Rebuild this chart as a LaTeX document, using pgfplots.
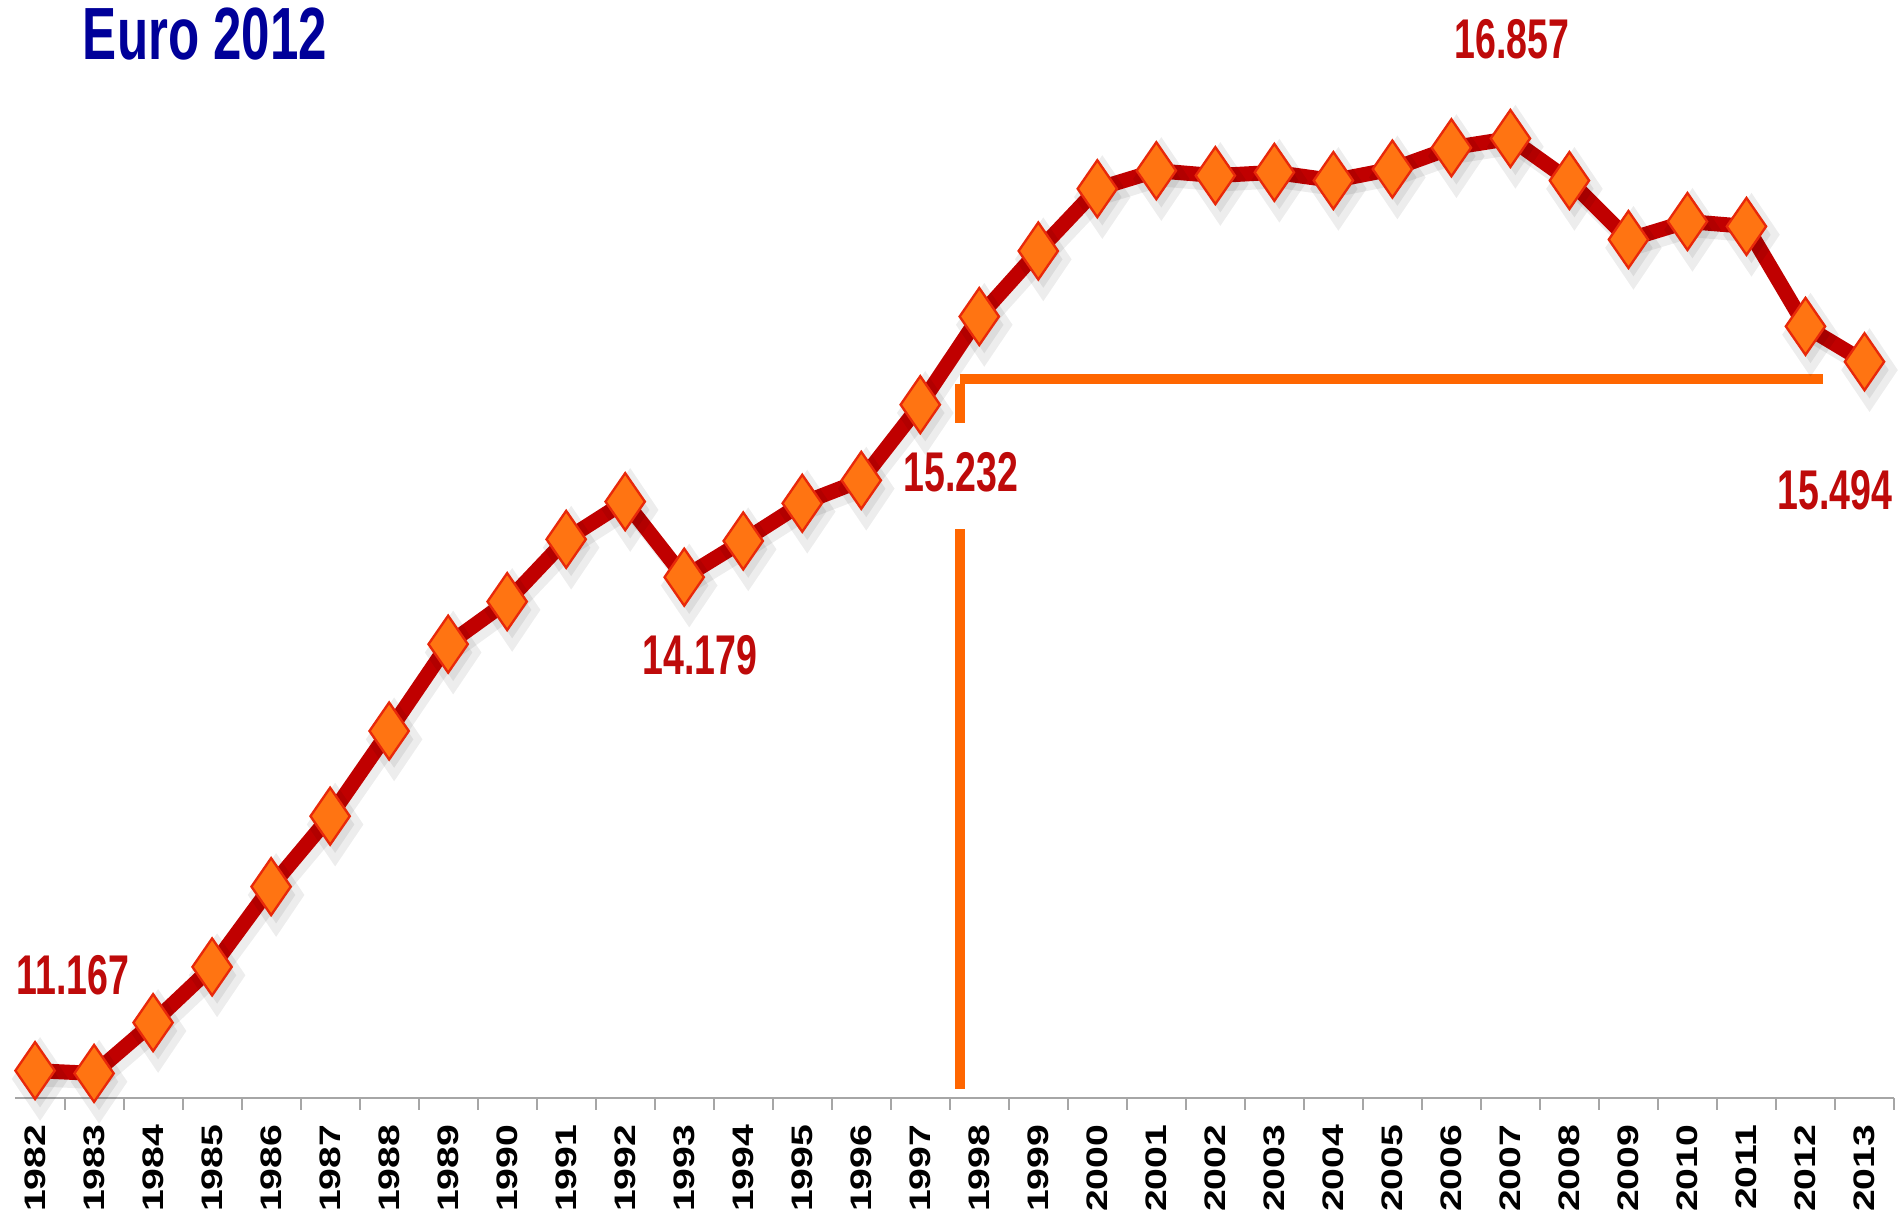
\documentclass[border=0pt]{standalone}
\usepackage{pgfplots}
\pgfplotsset{compat=1.18}
\usepackage{fontspec}
\setmainfont{Liberation Sans}
\newfontfamily\labfont[FakeStretch=0.67]{Liberation Sans}
\newfontfamily\titlefont[FakeStretch=0.69]{Liberation Sans}
\newfontfamily\tickfont[FakeStretch=1.32]{Liberation Sans}
\definecolor{linered}{HTML}{C00000}
\definecolor{labred}{HTML}{BE0A0A}
\definecolor{mkfill}{HTML}{FF7412}
\definecolor{mkdraw}{HTML}{E8280A}
\definecolor{annor}{HTML}{FF6600}
\definecolor{titleblue}{HTML}{000099}
\definecolor{gridgray}{HTML}{A6A6A6}
\pgfplotstableread{
x y
0 11.167
1 11.15
2 11.46
3 11.80
4 12.29
5 12.72
6 13.24
7 13.77
8 14.03
9 14.41
10 14.64
11 14.179
12 14.40
13 14.63
14 14.77
15 15.232
16 15.77
17 16.17
18 16.55
19 16.66
20 16.63
21 16.65
22 16.60
23 16.67
24 16.80
25 16.857
26 16.60
27 16.24
28 16.35
29 16.32
30 15.71
31 15.494
}\datatable
\begin{document}
\begin{tikzpicture}
\path[use as bounding box] (-4.5pt,-33.6pt) rectangle (566.4pt,329.4pt);
\begin{axis}[
  at={(0,0)}, anchor=south west,
  scale only axis,
  width=563.7pt, height=294.9pt,
  xmin=-0.34, xmax=31.5,
  ymin=11, ymax=17,
  clip=false,
  axis x line=bottom,
  axis y line=none,
  x axis line style={draw=gridgray, line width=0.6pt, -},
  xtick={0,...,31},
  xticklabels={1982,1983,1984,1985,1986,1987,1988,1989,1990,1991,1992,1993,1994,1995,1996,1997,1998,1999,2000,2001,2002,2003,2004,2005,2006,2007,2008,2009,2010,2011,2012,2013},
  major x tick style={draw=none},
  minor xtick={0.5,1.5,...,31.5},
  minor x tick style={draw=gridgray, line width=0.6pt},
  minor tick length=3.6pt,
  tick align=outside,
  xticklabel style={rotate=90, anchor=east, font=\tickfont\bfseries\fontsize{8.9pt}{9pt}\selectfont, inner sep=0pt, xshift=-3.6pt},
  ytick={11,...,17},
  ymajorgrids,
  major grid style={draw=gridgray, line width=0.6pt},
]
\draw[annor, line width=3pt] (axis cs:15.68,15.39) -- (axis cs:30.29,15.39);
\draw[annor, line width=3pt] (axis cs:15.68,15.36) -- (axis cs:15.68,15.12);
\draw[annor, line width=3pt] (axis cs:15.68,14.47) -- (axis cs:15.68,11.055);
\addplot[draw=black, opacity=0.07, line width=4.5pt, mark=diamond*, mark size=8.55pt,
  mark options={xscale=0.9, fill=black, draw=none, solid}, shift={(1.5pt,-2.5pt)}] table[x=x,y=y]{\datatable};
\addplot[draw=linered, line width=4.5pt, mark=diamond*, mark size=8.55pt,
  mark options={xscale=0.92, fill=mkfill, draw=mkdraw, line width=0.7pt, solid}] table[x=x,y=y]{\datatable};
\tikzset{lab/.style={font=\labfont\bfseries\fontsize{16.8pt}{17pt}\selectfont, text=labred, inner sep=0pt}}
\node[lab] at (axis cs:0.64,11.75) {11.167};
\node[lab] at (axis cs:11.27,13.70) {14.179};
\node[lab] at (axis cs:15.69,14.82) {15.232};
\node[lab] at (axis cs:25.03,17.46) {16.857};
\node[lab] at (axis cs:30.5,14.71) {15.494};
\end{axis}
\node[font=\titlefont\bfseries\fontsize{22.2pt}{23pt}\selectfont, text=titleblue, inner sep=0pt] at (57pt,319.2pt) {Euro 2012};
\end{tikzpicture}
\end{document}
